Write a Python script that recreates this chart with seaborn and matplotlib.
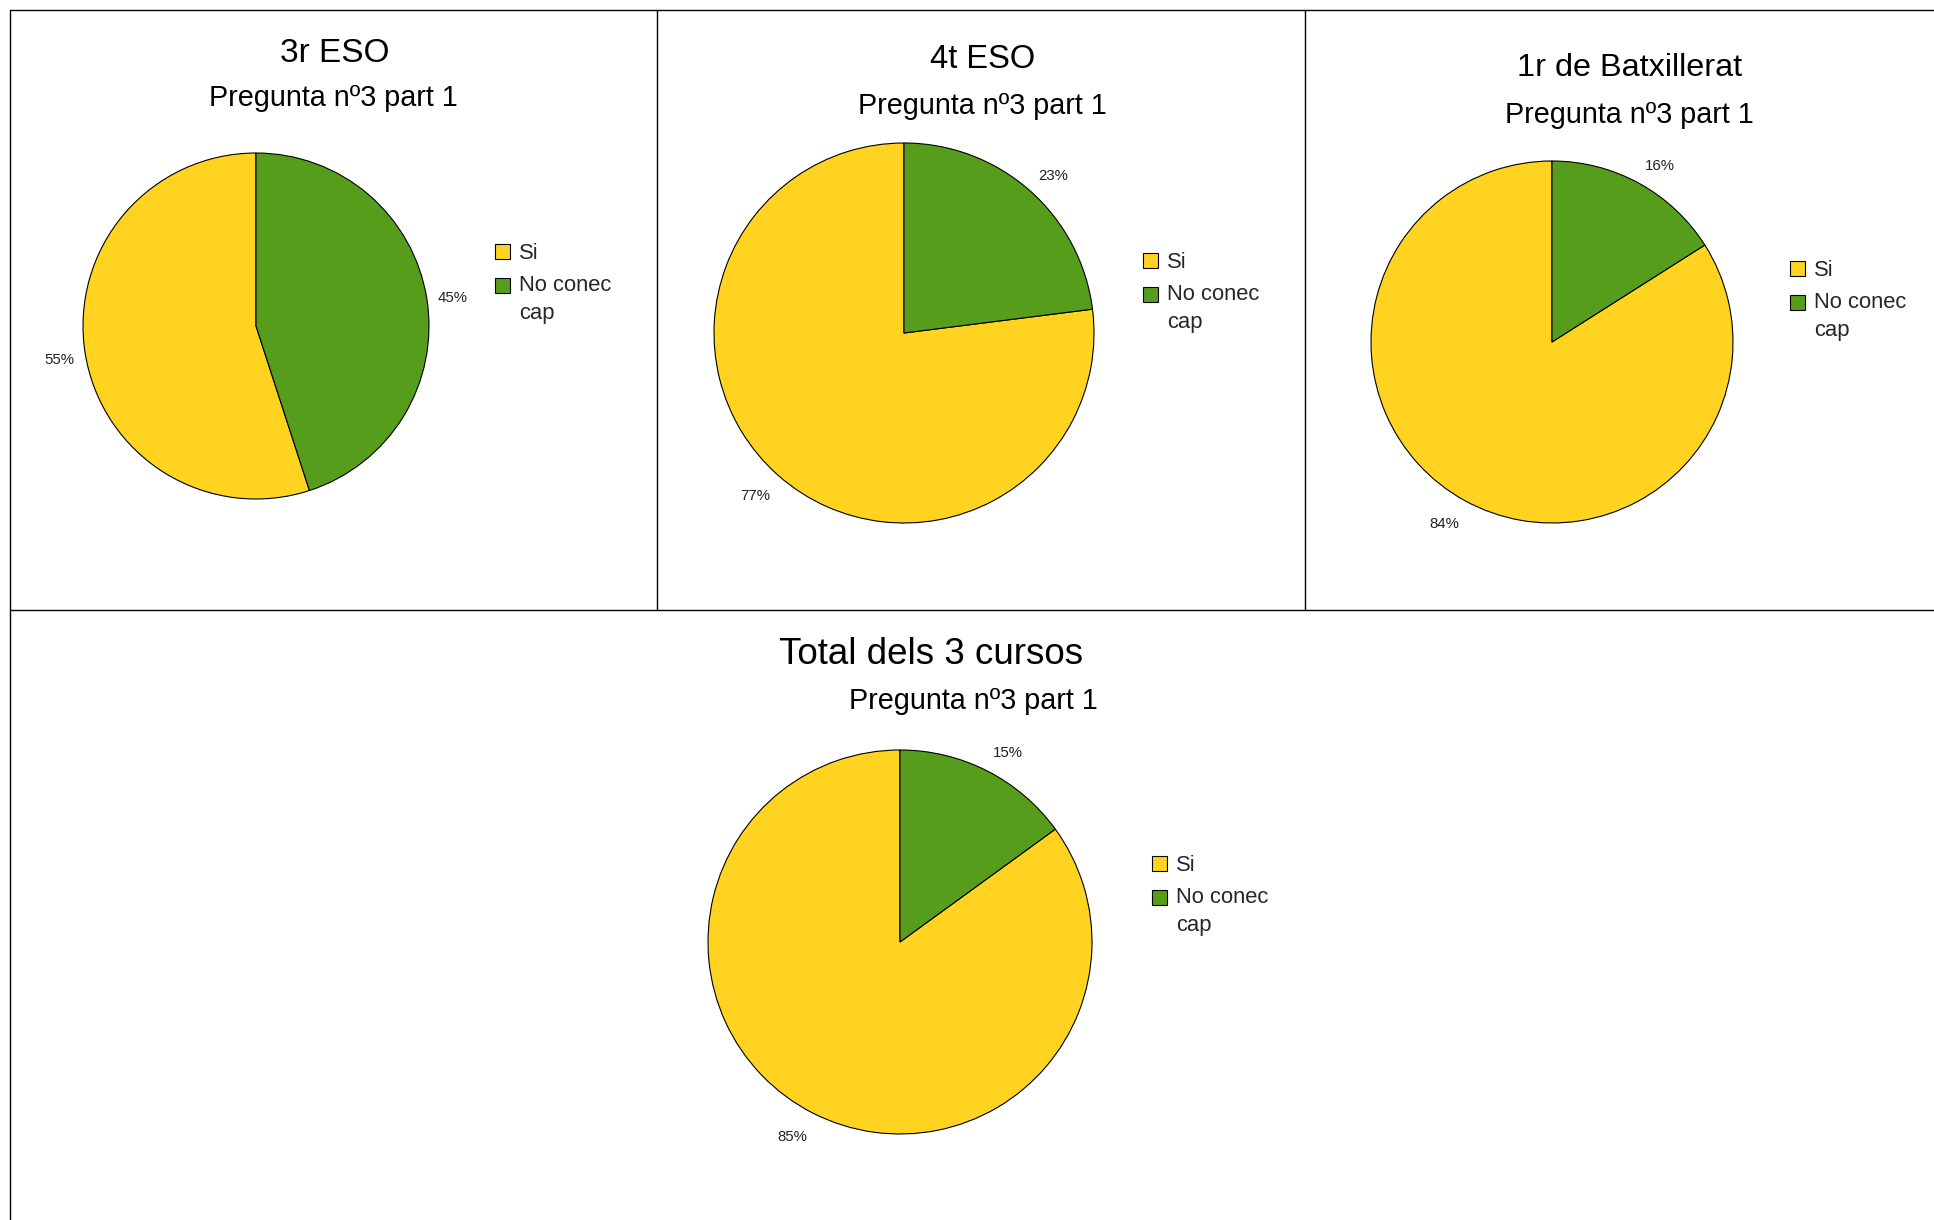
import matplotlib
matplotlib.use("Agg")
import matplotlib.pyplot as plt
import matplotlib.transforms as mtransforms
import seaborn as sns
from matplotlib.patches import Patch, Rectangle
from matplotlib.lines import Line2D
from matplotlib.legend_handler import HandlerPatch

# dades
cursos = ["3r ESO", "4t ESO", "1r de Batxillerat", "Total dels 3 cursos"]
subtitol = "Pregunta nº3 part 1"
respostes = ["Si", "No conec\ncap"]
si_pct = [55, 77, 84, 85]
no_pct = [45, 23, 16, 15]

sns.set_theme(style="white")
plt.rcParams['font.family'] = ['Liberation Sans', 'DejaVu Sans']
colors = sns.color_palette(["#FFD320", "#579D1C"])

W, H = 1934, 1220
fig = plt.figure(figsize=(W / 100, H / 100), dpi=100)
fig.patch.set_facecolor("white")

def fx(x):
    return x / W

def fy(y):
    return 1 - y / H

# posicions en pixels (centre pastís, radi, títol, subtítol, llegenda)
pie_c = [(256, 326), (904, 333), (1552, 342), (900, 942)]
pie_r = [173, 190, 181, 192]
tit_xy = [(335, 53), (983, 59), (1630, 68), (931, 654)]
tit_fs = [24, 23.5, 23.3, 26.5]
sub_xy = [(333, 98), (982, 106), (1629, 115), (973, 701)]
leg_xy = [(495, 243), (1143, 252), (1790, 260), (1152, 855)]

def top_box(legend, orig_handle, xdescent, ydescent, width, height, fontsize):
    n = orig_handle.get_label().count("\n")
    shift = n * 0.5 * 1.29 * fontsize
    return Rectangle((-xdescent, -ydescent + shift), width, height)

ld = 1.065
for i in range(4):
    cx, cy = pie_c[i]
    r = pie_r[i]
    k = 1.35
    ax = fig.add_axes([fx(cx - k * r), fy(cy + k * r), 2 * k * r / W, 2 * k * r / H])
    vals = [si_pct[i], no_pct[i]]
    wedges, texts = ax.pie(vals, colors=colors, startangle=90,
                           labels=[f"{v}%" for v in vals], labeldistance=ld,
                           wedgeprops=dict(edgecolor="black", linewidth=0.8),
                           textprops=dict(fontsize=10.8, color="#222222"))
    for t in texts:
        x, y = t.get_position()
        s = y / ld
        t.set_va("center")
        t.set_transform(mtransforms.offset_copy(ax.transData, fig=fig, x=0, y=8 * s - 2.2,
                                                units="points"))
    ax.set_xlim(-k, k)
    ax.set_ylim(-k, k)
    ax.set_aspect("equal")
    ax.axis("off")

    fig.text(fx(tit_xy[i][0]), fy(tit_xy[i][1]), cursos[i], ha="center", va="center",
             fontsize=tit_fs[i], color="black")
    fig.text(fx(sub_xy[i][0]), fy(sub_xy[i][1]), subtitol, ha="center", va="center",
             fontsize=20.7, color="black")

    handles = [Patch(facecolor=colors[j], edgecolor="black", linewidth=0.8, label=respostes[j])
               for j in range(2)]
    leg = fig.legend(handles=handles, loc="upper left",
                     bbox_to_anchor=(fx(leg_xy[i][0]), fy(leg_xy[i][1])),
                     frameon=False, fontsize=15.8, handlelength=0.68, handleheight=0.68,
                     handletextpad=0.42, labelspacing=0.5, borderpad=0, borderaxespad=0,
                     handler_map={Patch: HandlerPatch(patch_func=top_box)})
    for t in leg.get_texts():
        t.set_linespacing(1.45)

# línies de separació dels quadres
lw = 1.0
lines = [
    ((10, W), (10, 10)),
    ((10, 10), (10, H)),
    ((657, 657), (10, 610)),
    ((1305, 1305), (10, 610)),
    ((10, W), (610, 610)),
]
for xs, ys in lines:
    fig.add_artist(Line2D([fx(x) for x in xs], [fy(y) for y in ys], color="black", linewidth=lw))

fig.savefig("out.png", dpi=100, facecolor="white")
